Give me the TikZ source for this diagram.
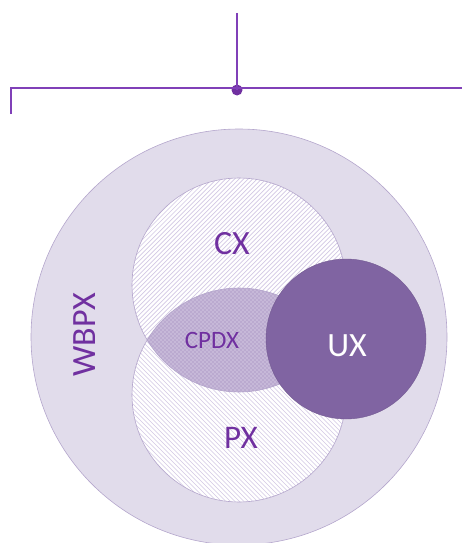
\documentclass[tikz,border=0pt]{standalone}
\usepackage{fontspec}
\setmainfont{Carlito}
\definecolor{outerfill}{HTML}{E1DCEB}
\definecolor{outerline}{HTML}{B4A6CC}
\definecolor{hatch}{HTML}{D2C8E4}
\definecolor{lensfill}{HTML}{C8BAD9}
\definecolor{lenshatch}{HTML}{B9A8CF}
\definecolor{uxfill}{HTML}{8064A2}
\definecolor{txt}{HTML}{7030A0}
\definecolor{topline}{HTML}{8040B8}
\tikzset{
  ring/.style={circle, inner sep=0pt, draw=outerline, line width=0.6pt},
  lbl/.style={text=txt, inner sep=0pt, text depth=0pt},
  hatchline/.style={draw=hatch, line width=0.7pt},
  lensline/.style={draw=lenshatch, line width=0.5pt},
}
\begin{document}
\begin{tikzpicture}[x=1pt,y=-1pt]
\useasboundingbox (0,0) rectangle (462,543);
% outer circle
\node[ring, fill=outerfill, minimum size=416pt] (wb) at (239,337) {};
% CX circle with / hatching
\node[circle, inner sep=0pt, fill=white, minimum size=214pt] (cx) at (239,285) {};
\begin{scope}
  \clip (cx.center) circle[radius=107pt];
  \foreach \i in {-160,-155.5,...,160}
    \draw[hatchline] (cx.center) ++(\i,0) ++(-115,115) -- ++(230,-230);
\end{scope}
% PX circle with \ hatching
\node[circle, inner sep=0pt, fill=white, minimum size=214pt] (px) at (239,395) {};
\begin{scope}
  \clip (px.center) circle[radius=107pt];
  \foreach \i in {-160,-155.5,...,160}
    \draw[hatchline] (px.center) ++(\i,0) ++(-115,-115) -- ++(230,230);
\end{scope}
% lens
\begin{scope}
  \clip (cx.center) circle[radius=107pt];
  \clip (px.center) circle[radius=107pt];
  \fill[lensfill] (px.center) circle[radius=107pt];
  \foreach \i in {-160,-156,...,160}{
    \draw[lensline] (px.center) ++(\i,-55) ++(-60,-60) -- ++(120,120);
    \draw[lensline] (px.center) ++(\i,-55) ++(-60,60) -- ++(120,-120);
  }
\end{scope}
\draw[outerline, line width=0.6pt] (cx.center) circle[radius=107pt];
\draw[outerline, line width=0.6pt] (px.center) circle[radius=107pt];
% UX
\node[circle, inner sep=0pt, fill=uxfill, draw=uxfill!90!black, line width=0.4pt, minimum size=160pt] (ux) at (346,339) {};
% labels
\node[lbl, font=\fontsize{34}{34}\selectfont] (cxl) at (232,243) {CX};
\node[lbl, font=\fontsize{25}{25}\selectfont] (cpdx) at (212,340) {CPDX};
\node[lbl, font=\fontsize{34}{34}\selectfont, text=white] (uxl) at (347,346) {UX};
\node[lbl, font=\fontsize{33}{33}\selectfont] (pxl) at (241,438) {PX};
\node[lbl, font=\fontsize{34}{34}\selectfont, rotate=90] (wbl) at (85,335) {WBPX};
% top connector
\coordinate (topend) at (237,13);
\coordinate (leftend) at (11,114);
\coordinate (leftcorner) at (11,88);
\coordinate (rightend) at (462,88);
\node[circle, fill=txt, inner sep=0pt, minimum size=11pt] (dot) at (237,90) {};
\draw[topline, line width=1.3pt] (leftend) -- (leftcorner) -- (rightend);
\draw[topline, line width=1.3pt] (topend) -- (dot.center);
\end{tikzpicture}
\end{document}
